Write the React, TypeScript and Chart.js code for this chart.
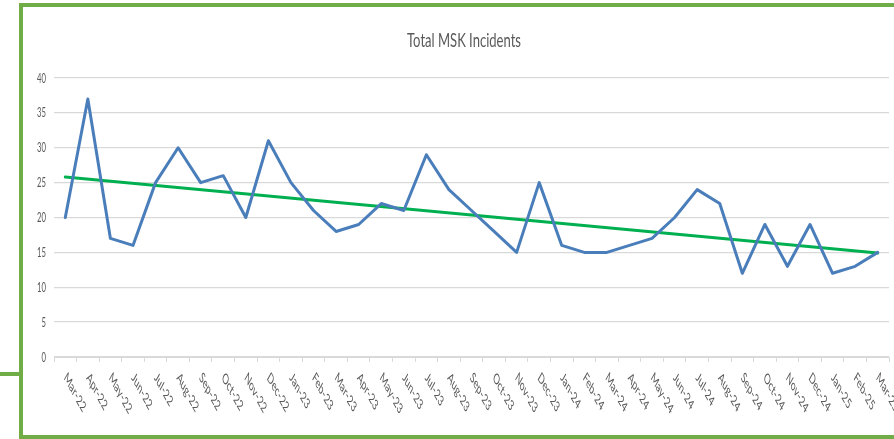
import { useEffect, useRef } from "react";
import { Chart, registerables } from "chart.js";

Chart.register(...registerables);

const chartTitle = "Total MSK Incidents";
const months = [
  "Mar-22", "Apr-22", "May-22", "Jun-22", "Jul-22", "Aug-22", "Sep-22", "Oct-22", "Nov-22", "Dec-22",
  "Jan-23", "Feb-23", "Mar-23", "Apr-23", "May-23", "Jun-23", "Jul-23", "Aug-23", "Sep-23", "Oct-23",
  "Nov-23", "Dec-23", "Jan-24", "Feb-24", "Mar-24", "Apr-24", "May-24", "Jun-24", "Jul-24", "Aug-24",
  "Sep-24", "Oct-24", "Nov-24", "Dec-24", "Jan-25", "Feb-25", "Mar-25",
];
const incidents = [
  20, 37, 17, 16, 25, 30, 25, 26, 20, 31,
  25, 21, 18, 19, 22, 21, 29, 24, 21, 18,
  15, 25, 16, 15, 15, 16, 17, 20, 24, 22,
  12, 19, 13, 19, 12, 13, 15,
];
const trendStart = 25.8;
const trendEnd = 14.9;
const yTickValues = [0, 5, 10, 15, 20, 25, 30, 35, 40];

const FONT = "Lato, 'Open Sans', sans-serif";
const TEXT_COLOR = "#595959";
const SQUEEZE = 0.55;

const textPlugin = {
  id: "squeezedText",
  afterDraw(chart: any) {
    const ctx = chart.ctx as CanvasRenderingContext2D;
    const xs = chart.scales.x;
    const ys = chart.scales.y;
    ctx.save();
    ctx.fillStyle = TEXT_COLOR;

    // title
    ctx.font = `19px ${FONT}`;
    const w = ctx.measureText(chartTitle).width;
    const sx = 114 / w;
    ctx.save();
    ctx.translate(464, 41);
    ctx.scale(sx, 1);
    ctx.textAlign = "center";
    ctx.textBaseline = "middle";
    ctx.fillText(chartTitle, 0, 0);
    ctx.restore();

    // y labels
    ctx.font = `14px ${FONT}`;
    for (const v of yTickValues) {
      const y = ys.getPixelForValue(v);
      ctx.save();
      ctx.translate(xs.left - 8, y);
      ctx.scale(SQUEEZE, 1);
      ctx.textAlign = "right";
      ctx.textBaseline = "middle";
      ctx.fillText(String(v), 0, 0);
      ctx.restore();
    }

    // x labels
    ctx.font = `15px ${FONT}`;
    months.forEach((m, i) => {
      const x = xs.getPixelForValue(i);
      ctx.save();
      ctx.translate(x, xs.top + 18);
      ctx.scale(SQUEEZE, 1);
      ctx.rotate(Math.PI / 4);
      ctx.textAlign = "left";
      ctx.textBaseline = "middle";
      ctx.fillText(m, 0, 0);
      ctx.restore();
    });
    ctx.restore();
  },
};

export default function App() {
  const ref = useRef<HTMLCanvasElement | null>(null);

  useEffect(() => {
    if (!ref.current) return;
    const chart = new Chart(ref.current, {
      type: "line",
      data: {
        labels: months,
        datasets: [
          {
            label: "Total MSK Incidents",
            data: incidents,
            borderColor: "#4a7ebb",
            borderWidth: 3,
            pointRadius: 0,
            tension: 0,
            borderJoinStyle: "round",
            borderCapStyle: "round",
          },
          {
            label: "Trend",
            data: [
              { x: months[0], y: trendStart },
              { x: months[months.length - 1], y: trendEnd },
            ] as any,
            borderColor: "#00b050",
            borderWidth: 3,
            pointRadius: 0,
            borderCapStyle: "round",
          },
        ],
      },
      options: {
        animation: false,
        responsive: false,
        devicePixelRatio: 1,
        events: [],
        layout: { padding: { top: 78, right: 5, bottom: 77, left: 0 } },
        plugins: {
          legend: { display: false },
          tooltip: { enabled: false },
          title: { display: false },
        },
        scales: {
          x: {
            type: "category",
            offset: true,
            grid: {
              display: true,
              drawOnChartArea: false,
              drawTicks: true,
              tickLength: 5,
              color: "#d9d9d9",
              offset: true,
            },
            border: { display: true, color: "#d9d9d9", width: 1 },
            ticks: { display: false },
          },
          y: {
            min: 0,
            max: 40,
            ticks: { display: false, stepSize: 5 },
            grid: { color: "#d9d9d9", drawTicks: false, lineWidth: 1.3 },
            border: { display: false },
            afterFit: (s: any) => {
              s.width = 54;
            },
          },
        },
      },
      plugins: [textPlugin],
    });
    return () => chart.destroy();
  }, []);

  const green = "#70ad47";
  return (
    <div style={{ position: "fixed", left: 0, top: 0, width: 894, height: 439, background: "#fff", overflow: "hidden" }}>
      <canvas ref={ref} width={894} height={439} style={{ position: "absolute", left: 0, top: 0, width: 894, height: 439 }} />
      <div style={{ position: "absolute", left: 19, top: 3, width: 875, height: 4, background: green }} />
      <div style={{ position: "absolute", left: 19, top: 3, width: 4, height: 436, background: green }} />
      <div style={{ position: "absolute", left: 19, top: 435, width: 875, height: 4, background: green }} />
      <div style={{ position: "absolute", left: 0, top: 372, width: 19, height: 4, background: green }} />
    </div>
  );
}
